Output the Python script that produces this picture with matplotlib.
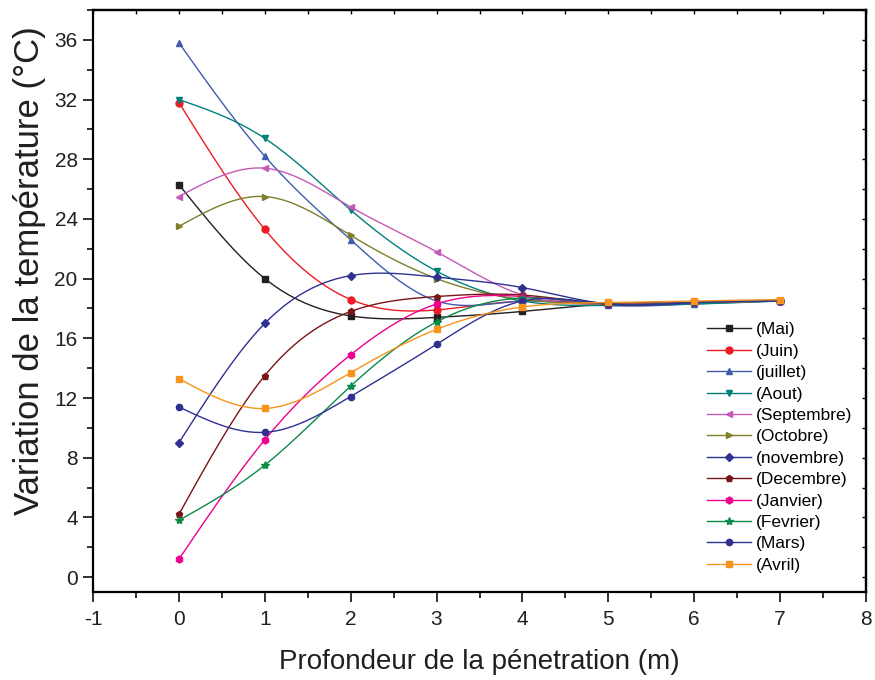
import numpy as np
import matplotlib
matplotlib.use("Agg")
import matplotlib.pyplot as plt
from matplotlib.ticker import MultipleLocator

# depth (m)
depth = [0, 1, 2, 3, 4, 5, 6, 7]

# temperature per month (deg C)
mai = [26.3, 20.0, 17.5, 17.4, 17.8, 18.3, 18.4, 18.5]
juin = [31.8, 23.3, 18.6, 17.9, 18.5, 18.3, 18.4, 18.5]
juillet = [35.8, 28.2, 22.6, 18.5, 18.5, 18.2, 18.3, 18.5]
aout = [32.0, 29.4, 24.6, 20.5, 18.5, 18.2, 18.3, 18.5]
septembre = [25.5, 27.4, 24.8, 21.8, 18.9, 18.3, 18.4, 18.5]
octobre = [23.5, 25.5, 22.9, 20.0, 18.6, 18.3, 18.4, 18.5]
novembre = [9.0, 17.0, 20.2, 20.1, 19.4, 18.3, 18.4, 18.5]
decembre = [4.2, 13.5, 17.8, 18.8, 18.9, 18.3, 18.4, 18.5]
janvier = [1.2, 9.2, 14.9, 18.3, 18.8, 18.3, 18.4, 18.5]
fevrier = [3.8, 7.5, 12.8, 17.1, 18.7, 18.3, 18.4, 18.5]
mars = [11.4, 9.7, 12.1, 15.6, 18.5, 18.3, 18.4, 18.5]
avril = [13.3, 11.3, 13.7, 16.6, 18.1, 18.4, 18.5, 18.6]

labels = ["(Mai)", "(Juin)", "(juillet)", "(Aout)", "(Septembre)", "(Octobre)",
          "(novembre)", "(Decembre)", "(Janvier)", "(Fevrier)", "(Mars)", "(Avril)"]
series = [mai, juin, juillet, aout, septembre, octobre,
          novembre, decembre, janvier, fevrier, mars, avril]
colors = ["#231F20", "#ED1C24", "#3F5DAB", "#00807C", "#C559B8", "#7F7F2A",
          "#2E3192", "#7A1517", "#EC008C", "#0B8A4A", "#2E3192", "#F7941D"]
markers = ["s", "o", "^", "v", "<", ">", "D", "p", "h", "*", "o", "s"]
msizes = [5, 5, 5, 5, 5, 5, 4, 5, 5, 6, 4.5, 5]


def spline(x, y, n=200):
    # natural cubic spline, only for drawing the smooth connecting line
    x = np.asarray(x, float)
    y = np.asarray(y, float)
    k = len(x)
    h = np.diff(x)
    A = np.zeros((k, k))
    b = np.zeros(k)
    A[0, 0] = 1
    A[-1, -1] = 1
    for i in range(1, k - 1):
        A[i, i - 1] = h[i - 1]
        A[i, i] = 2 * (h[i - 1] + h[i])
        A[i, i + 1] = h[i]
        b[i] = 6 * ((y[i + 1] - y[i]) / h[i] - (y[i] - y[i - 1]) / h[i - 1])
    m = np.linalg.solve(A, b)
    xs = np.linspace(x[0], x[-1], n)
    idx = np.clip(np.searchsorted(x, xs) - 1, 0, k - 2)
    x0, x1 = x[idx], x[idx + 1]
    hh = x1 - x0
    t0 = x1 - xs
    t1 = xs - x0
    ys = (m[idx] * t0**3 / (6 * hh) + m[idx + 1] * t1**3 / (6 * hh)
          + (y[idx] / hh - m[idx] * hh / 6) * t0
          + (y[idx + 1] / hh - m[idx + 1] * hh / 6) * t1)
    return xs, ys


plt.rcParams['font.family'] = ['Liberation Sans', 'DejaVu Sans']
plt.rcParams['axes.unicode_minus'] = False

fig = plt.figure(figsize=(8.75, 6.8), dpi=100)
ax = fig.add_axes([0.1063, 0.1294, 0.8834, 0.8559])

for y, lab, c, mk, ms in zip(series, labels, colors, markers, msizes):
    xs, ys = spline(depth, y)
    ax.plot(xs, ys, color=c, lw=1.0)
    ax.plot(depth, y, ls="none", marker=mk, color=c, ms=ms, mec=c)
    # legend proxy
    ax.plot([], [], color=c, lw=1.0, marker=mk, ms=ms, label=lab)

ax.set_xlim(-1, 8)
ax.set_ylim(-1, 38)
ax.xaxis.set_major_locator(MultipleLocator(1))
ax.xaxis.set_minor_locator(MultipleLocator(0.5))
ax.yaxis.set_minor_locator(MultipleLocator(2))
ax.set_yticks([0, 4, 8, 12, 16, 20, 24, 28, 32, 36])

for s in ax.spines.values():
    s.set_linewidth(1.6)
ax.tick_params(which="both", direction="out", width=1.3, colors="#231F20")
ax.tick_params(which="major", length=7)
ax.tick_params(which="minor", length=4)
ax.tick_params(axis="y", labelsize=15, pad=4)
ax.tick_params(axis="x", labelsize=15, pad=6)

# inward ticks on top and right
sec_x = ax.secondary_xaxis("top")
sec_x.xaxis.set_major_locator(MultipleLocator(1))
sec_x.xaxis.set_minor_locator(MultipleLocator(0.5))
sec_x.tick_params(which="both", direction="in", length=3, width=1.0, labeltop=False)
sec_x.spines["top"].set_linewidth(1.6)
sec_y = ax.secondary_yaxis("right")
sec_y.yaxis.set_major_locator(MultipleLocator(4))
sec_y.yaxis.set_minor_locator(MultipleLocator(2))
sec_y.tick_params(which="both", direction="in", length=3, width=1.0, labelright=False)
sec_y.spines["right"].set_linewidth(1.6)

ax.set_xlabel("Profondeur de la pénetration (m)", fontsize=20,
              color="#231F20", labelpad=14)
ax.set_ylabel("Variation de la température (°C)", fontsize=25, color="#231F20")
ax.yaxis.set_label_coords(-0.061, 0.552)

ax.legend(loc="lower right", bbox_to_anchor=(0.998, 0.012), frameon=False,
          fontsize=12.5, handlelength=2.5, handletextpad=0.3, labelspacing=0.36,
          borderaxespad=0.3)

fig.savefig("out.png", dpi=100)
